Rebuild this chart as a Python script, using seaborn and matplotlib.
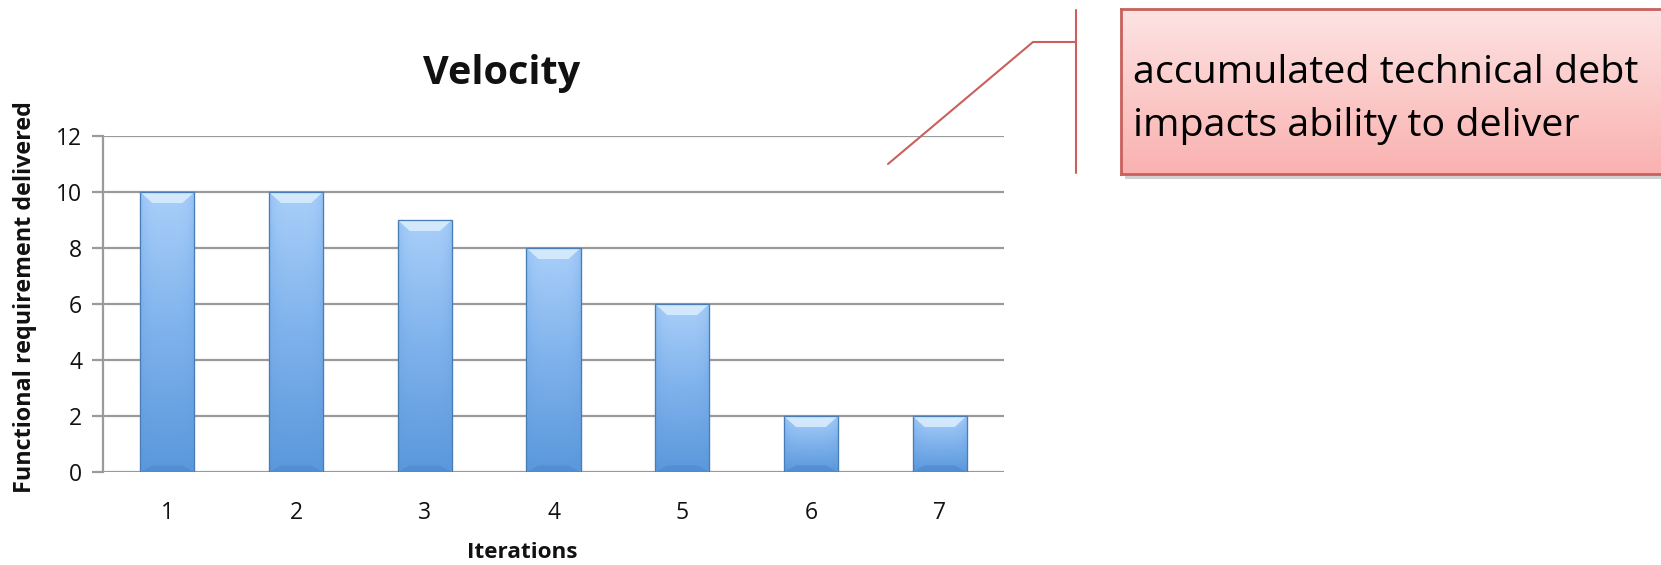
import numpy as np
import pandas as pd
import matplotlib
matplotlib.use("Agg")
import matplotlib.pyplot as plt
import seaborn as sns
from matplotlib.colors import LinearSegmentedColormap
from matplotlib.patches import Polygon
from matplotlib.lines import Line2D

# Data
iterations = ["1", "2", "3", "4", "5", "6", "7"]
delivered = [10, 10, 9, 8, 6, 2, 2]
y_ticks = [0, 2, 4, 6, 8, 10, 12]

title_text = "Velocity"
x_label = "Iterations"
y_label = "Functional requirement delivered"
note_lines = ["accumulated technical debt", "impacts ability to deliver"]

sns.set_theme(style="white")
plt.rcParams["font.family"] = ["Open Sans", "DejaVu Sans"]

W, H = 1661, 565
fig = plt.figure(figsize=(W / 100, H / 100), dpi=100)
ax = fig.add_axes([103 / W, 1 - 472 / H, (1004 - 103) / W, (472 - 136) / H])

df = pd.DataFrame({"iteration": iterations, "delivered": delivered})
sns.barplot(data=df, x="iteration", y="delivered", ax=ax, width=0.42,
            color="#8dbbf0", edgecolor="#4d7fb8", linewidth=0.8, zorder=3)

ax.set_ylim(0, 12)
ax.set_xlim(-0.5, len(iterations) - 0.5)
ax.set_yticks(y_ticks)
ax.yaxis.grid(True, color="#9a9a9a", linewidth=1.6, zorder=0)
ax.xaxis.grid(False)
for side in ["top", "right", "bottom"]:
    ax.spines[side].set_visible(False)
ax.spines["left"].set_color("#9a9a9a")
ax.spines["left"].set_linewidth(1.6)
ax.tick_params(axis="y", which="major", left=True, length=8, width=1.6,
               color="#9a9a9a", labelsize=16.5, pad=7, labelcolor="#111111")
ax.tick_params(axis="x", which="major", bottom=False, labelsize=16.5, pad=15,
               labelcolor="#111111")
ax.set_xlabel("")
ax.set_ylabel("")

# Axis titles placed in figure pixels
def fx(x):
    return x / W

def fy(y):
    return 1 - y / H

fig.text(fx(522), fy(552), x_label, ha="center", va="center",
         fontsize=16.2, fontweight="bold", color="#111111")
fig.text(fx(25), fy(297), y_label, rotation=90, ha="center", va="center",
         fontsize=16.8, fontweight="bold", color="#111111")

# Gradient fill and bevels for each bar
cmap = LinearSegmentedColormap.from_list(
    "barfill", ["#5a98dc", "#7fb2ec", "#a9cff9"])
px_per_x = (1004 - 103) / 7.0
px_per_y = (472 - 136) / 12.0
bev_x = 12 / px_per_x
bev_y = 11 / px_per_y
for p in list(ax.patches):
    x0, w, h = p.get_x(), p.get_width(), p.get_height()
    if h <= 0:
        continue
    yy = np.linspace(0, 1, 200)[:, None]
    xx = np.linspace(-1, 1, 60)[None, :]
    grad = yy * (1 - 0.25 * xx ** 4)
    im = ax.imshow(grad, cmap=cmap, vmin=0, vmax=1, origin="lower",
                   extent=[x0, x0 + w, 0, h], aspect="auto", zorder=3.1,
                   interpolation="bilinear")
    im.set_clip_path(p)
    top = Polygon([[x0, h], [x0 + w, h], [x0 + w - bev_x, h - bev_y],
                   [x0 + bev_x, h - bev_y]], closed=True,
                  facecolor="#d8ecfe", edgecolor="none", zorder=3.2, alpha=0.9)
    ax.add_patch(top)
    bot = Polygon([[x0, 0], [x0 + w, 0], [x0 + w - bev_x, bev_y * 0.6],
                   [x0 + bev_x, bev_y * 0.6]], closed=True,
                  facecolor="#4f8ad0", edgecolor="none", zorder=3.2, alpha=0.7)
    ax.add_patch(bot)
    edge = plt.Rectangle((x0, 0), w, h, facecolor="none", edgecolor="#4a7cb5",
                         linewidth=0.9, zorder=3.3)
    ax.add_patch(edge)

ax.set_xlim(-0.5, len(iterations) - 0.5)
ax.set_ylim(0, 12)

# Title
fig.text(fx(502), fy(73), title_text, ha="center", va="center",
         fontsize=28.5, fontweight="bold", color="#111111")

# Callout connector
red = "#c9605c"
fig.add_artist(Line2D([fx(888), fx(1033), fx(1076)], [fy(164), fy(42), fy(42)],
                      color=red, linewidth=1.5))
fig.add_artist(Line2D([fx(1076), fx(1076)], [fy(10), fy(173)],
                      color=red, linewidth=1.5))

# Callout box with shadow and gradient fill
bx0, by0, bx1, by1 = 1121, 9, 1675, 174
shadow = plt.Rectangle((fx(bx0 + 4), fy(by1 + 5)), (bx1 - bx0) / W, (by1 - by0) / H,
                       transform=fig.transFigure, facecolor="#000000", alpha=0.18,
                       edgecolor="none", zorder=1)
fig.add_artist(shadow)
box_ax = fig.add_axes([fx(bx0), fy(by1), (bx1 - bx0) / W, (by1 - by0) / H], zorder=2)
pink = LinearSegmentedColormap.from_list("note", ["#f9b2b0", "#fde3e3"])
box_ax.imshow(np.linspace(0, 1, 100)[:, None], cmap=pink, origin="lower",
              extent=[0, 1, 0, 1], aspect="auto")
box_ax.set_xlim(0, 1)
box_ax.set_ylim(0, 1)
box_ax.set_xticks([])
box_ax.set_yticks([])
for s in box_ax.spines.values():
    s.set_color("#c9605c")
    s.set_linewidth(2)

fig.text(fx(1133), fy(73), note_lines[0], ha="left", va="center",
         fontsize=28.4, color="#000000", zorder=5)
fig.text(fx(1133), fy(126), note_lines[1], ha="left", va="center",
         fontsize=28.4, color="#000000", zorder=5)

fig.savefig("out.png", dpi=100)
